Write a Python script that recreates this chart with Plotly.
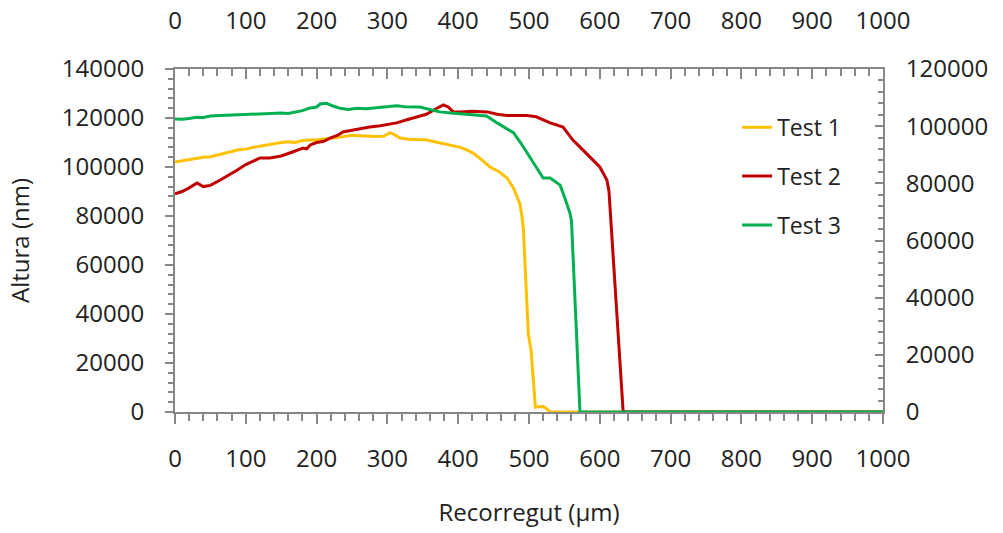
import plotly.graph_objects as go

# Profile scans: position along the scan (µm) and measured height (nm)
test1_x = [0, 10, 20, 30, 40, 50, 60, 70, 80, 90, 100, 110, 120, 130, 140, 150, 160, 170,
           180, 190, 200, 210, 220, 230, 240, 250, 260, 270, 285, 295, 304, 310, 318, 330,
           340, 356, 365, 374, 390, 403, 412, 421, 432, 445, 457, 469, 478, 483, 487, 490,
           492, 499, 503, 509, 514, 520, 524, 530, 540, 1000]
test1_y = [102000, 102500, 103000, 103600, 104000, 104200, 105000, 105500, 106300, 107000,
           107300, 108000, 108600, 109200, 109500, 110000, 110300, 110000, 110800, 111000,
           111000, 111400, 111600, 112000, 112500, 113000, 112800, 112600, 112400, 112600,
           114000, 113200, 111800, 111300, 111300, 111000, 110400, 109800, 108800, 108000,
           107000, 105700, 103200, 100000, 98200, 95500, 91500, 87700, 85000, 80000,
           75000, 32000, 25000, 2000, 2000, 2200, 1500, 0, 0, 0]

test2_x = [0, 10, 20, 31, 40, 50, 64, 75, 88, 100, 110, 120, 134, 150, 162, 175, 181, 186,
           191, 200, 210, 219, 230, 237, 250, 260, 275, 290, 300, 313, 330, 342, 355, 370,
           379, 386, 393, 403, 420, 441, 455, 469, 497, 510, 530, 548, 562, 576, 590, 600,
           610, 613, 633, 1000]
test2_y = [89000, 90000, 91500, 93500, 92000, 92500, 94700, 96500, 98800, 101000, 102500,
           103700, 103700, 104500, 105700, 107000, 107700, 107400, 109000, 110000, 110500,
           111800, 113000, 114300, 115000, 115600, 116300, 116800, 117300, 118000, 119500,
           120400, 121500, 124000, 125300, 124500, 122500, 122500, 122800, 122500, 121500,
           121000, 121000, 120500, 118000, 116300, 111000, 107000, 103000, 100000, 94700,
           90000, 0, 0]

test3_x = [0, 10, 20, 30, 40, 50, 64, 80, 100, 120, 134, 150, 160, 170, 180, 190, 200, 205,
           214, 222, 233, 245, 257, 270, 285, 300, 313, 325, 346, 360, 374, 390, 417, 440,
           455, 470, 478, 488, 497, 510, 520, 530, 544, 551, 558, 560, 572, 1000]
test3_y = [119600, 119500, 119800, 120300, 120200, 120800, 121000, 121200, 121500, 121600,
           122000, 122000, 121800, 122300, 123000, 124000, 124500, 125700, 126000, 125000,
           124000, 123500, 124000, 123800, 124200, 124500, 125000, 124600, 124500, 123500,
           122500, 122000, 121500, 120800, 118000, 115500, 114000, 110000, 106000, 100000,
           95500, 95500, 92600, 87000, 81000, 78000, 0, 0]

series = [
    ("Test 1", test1_x, test1_y, "#FFC000"),
    ("Test 2", test2_x, test2_y, "#C00000"),
    ("Test 3", test3_x, test3_y, "#00B050"),
]

axis_color = "#878787"
text_color = "#222222"

fig = go.Figure()
for name, xs, ys, color in series:
    fig.add_trace(go.Scatter(
        x=xs, y=ys, mode="lines", name=name, legendgroup=name,
        line=dict(color=color, width=3),
    ))

common_axis = dict(
    showgrid=False, zeroline=False, showline=True,
    linecolor=axis_color, linewidth=2,
    tickwidth=2, tickcolor=axis_color, layer="below traces",
    tickfont=dict(size=24, color=text_color),
    tickformat="d", automargin=False,
)

fig.update_layout(
    width=1003, height=533, autosize=False,
    margin=dict(l=175, r=120, t=69, b=121, pad=0),
    paper_bgcolor="white", plot_bgcolor="white",
    font=dict(family="Open Sans", size=24, color=text_color),
    showlegend=True,
    xaxis=dict(
        range=[0, 1000], tick0=0, dtick=100, ticks="outside", ticklen=10,
        minor=dict(dtick=20, ticks="outside", ticklen=7, tickwidth=1.5, tickcolor=axis_color),
        ticklabelstandoff=14,
        title=dict(text="Recorregut (µm)", standoff=31, font=dict(size=24, color=text_color)),
        **common_axis,
    ),
    xaxis2=dict(
        range=[0, 1000], tick0=0, dtick=100, ticks="inside", ticklen=10,
        minor=dict(dtick=20, ticks="inside", ticklen=7, tickwidth=1.5, tickcolor=axis_color),
        overlaying="x", side="top", anchor="y", ticklabelstandoff=28,
        **common_axis,
    ),
    yaxis=dict(
        range=[0, 140000], tick0=0, dtick=20000, ticks="outside", ticklen=8,
        minor=dict(dtick=4000, ticks="outside", ticklen=5, tickwidth=1.5, tickcolor=axis_color),
        ticklabelstandoff=16,
        title=dict(text="Altura (nm)", standoff=25, font=dict(size=24, color=text_color)),
        **common_axis,
    ),
    yaxis2=dict(
        range=[0, 120000], tick0=0, dtick=20000, ticks="inside", ticklen=8,
        minor=dict(dtick=4000, ticks="inside", ticklen=5, tickwidth=1.5, tickcolor=axis_color),
        overlaying="y", side="right", anchor="x", ticklabelstandoff=16,
        **common_axis,
    ),
    legend=dict(
        x=0.794, y=0.893, xanchor="left", yanchor="top",
        traceorder="grouped", tracegroupgap=16,
        bgcolor="rgba(0,0,0,0)", borderwidth=0,
        font=dict(size=23, color=text_color),
    ),
)

# empty trace so the secondary axes are laid out
fig.add_trace(go.Scatter(x=[None], y=[None], xaxis="x2", yaxis="y2",
                         showlegend=False, hoverinfo="skip"))

fig.write_html("out.html")
